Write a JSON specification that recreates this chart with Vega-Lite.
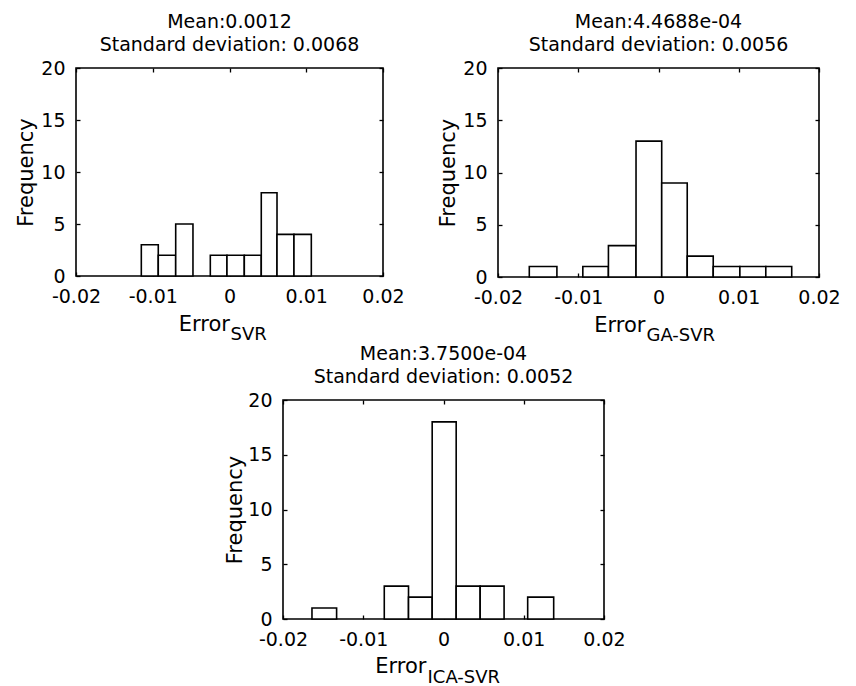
{
  "$schema": "https://vega.github.io/schema/vega-lite/v6.json",
  "padding": {"left": 14, "top": 12, "right": 0, "bottom": 0},
  "background": "white",
  "config": {
    "view": {"stroke": "black", "strokeWidth": 1.6},
    "font": "DejaVu Sans",
    "axis": {
      "grid": false,
      "domain": false,
      "tickColor": "black",
      "tickWidth": 1.3,
      "tickSize": -4,
      "labelFont": "DejaVu Sans",
      "labelFontSize": 19,
      "labelColor": "black",
      "labelPadding": 15,
      "titleFont": "DejaVu Sans",
      "titleFontSize": 21,
      "titleFontWeight": "normal",
      "titleColor": "black"
    },
    "title": {"font": "DejaVu Sans", "fontSize": 19, "fontWeight": "normal", "color": "black", "lineHeight": 23, "frame": "group", "anchor": "middle", "offset": 4}
  },
  "vconcat": [
    {
      "hconcat": [
        {
          "width": 307, "height": 208,
          "title": {"text": ["Mean:0.0012", "Standard deviation: 0.0068"]},
          "data": {"values": [
            {"x0": -0.01149, "x1": -0.00928, "count": 3},
            {"x0": -0.00928, "x1": -0.00701, "count": 2},
            {"x0": -0.00701, "x1": -0.00476, "count": 5},
            {"x0": -0.0025, "x1": -0.00033, "count": 2},
            {"x0": -0.00033, "x1": 0.00193, "count": 2},
            {"x0": 0.00193, "x1": 0.00414, "count": 2},
            {"x0": 0.00414, "x1": 0.00619, "count": 8},
            {"x0": 0.00619, "x1": 0.0084, "count": 4},
            {"x0": 0.0084, "x1": 0.01066, "count": 4}
          ]},
          "layer": [
            {"mark": {"type": "rect", "fill": "white", "stroke": "black", "strokeWidth": 1.6},
             "encoding": {
               "x": {"field": "x0", "type": "quantitative", "scale": {"domain": [-0.02, 0.02], "nice": false, "zero": false},
                     "axis": {"orient": "bottom", "values": [-0.02, -0.01, 0, 0.01, 0.02], "labelExpr": "'' + datum.value", "title": "Error", "titleX": 153.5, "titleY": 54, "titleAlign": "right", "titleBaseline": "alphabetic", "labelFlush": false, "labelOverlap": false}},
               "x2": {"field": "x1"},
               "y": {"field": "count", "type": "quantitative", "scale": {"domain": [0, 20], "nice": false},
                     "axis": {"orient": "left", "values": [0, 5, 10, 15, 20], "title": "Frequency", "titleX": -44, "titleY": 104, "titleAngle": -90, "titleAlign": "center", "titleBaseline": "alphabetic", "labelOverlap": false}},
               "y2": {"datum": 0}
             }},
            {"mark": {"type": "rect", "opacity": 0},
             "encoding": {
               "x": {"field": "x0", "type": "quantitative", "axis": {"orient": "top", "values": [-0.02, -0.01, 0, 0.01, 0.02], "labels": false, "title": null}},
               "x2": {"field": "x1"},
               "y": {"field": "count", "type": "quantitative", "axis": {"orient": "right", "values": [0, 5, 10, 15, 20], "labels": false, "title": null}},
               "y2": {"datum": 0}
             }},
            {"mark": {"type": "rect", "opacity": 0},
             "encoding": {
               "x": {"field": "x0", "type": "quantitative", "axis": {"orient": "bottom", "labels": false, "ticks": false, "title": "SVR", "titleFontSize": 18, "titleX": 154, "titleY": 63, "titleAlign": "left", "titleBaseline": "alphabetic"}},
               "x2": {"field": "x1"},
               "y": {"field": "count", "type": "quantitative", "axis": null},
               "y2": {"datum": 0}
             }}
          ],
          "resolve": {"axis": {"x": "independent", "y": "independent"}}
        },
        {
          "width": 321, "height": 209,
          "title": {"text": ["Mean:4.4688e-04", "Standard deviation: 0.0056"]},
          "data": {"values": [
            {"x0": -0.0161, "x1": -0.01266, "count": 1},
            {"x0": -0.00943, "x1": -0.00624, "count": 1},
            {"x0": -0.00624, "x1": -0.0028, "count": 3},
            {"x0": -0.0028, "x1": 0.0004, "count": 13},
            {"x0": 0.0004, "x1": 0.00358, "count": 9},
            {"x0": 0.00358, "x1": 0.00682, "count": 2},
            {"x0": 0.00682, "x1": 0.01014, "count": 1},
            {"x0": 0.01014, "x1": 0.01337, "count": 1},
            {"x0": 0.01337, "x1": 0.0166, "count": 1}
          ]},
          "layer": [
            {"mark": {"type": "rect", "fill": "white", "stroke": "black", "strokeWidth": 1.6},
             "encoding": {
               "x": {"field": "x0", "type": "quantitative", "scale": {"domain": [-0.02, 0.02], "nice": false, "zero": false},
                     "axis": {"orient": "bottom", "values": [-0.02, -0.01, 0, 0.01, 0.02], "labelExpr": "'' + datum.value", "title": "Error", "titleX": 147, "titleY": 54, "titleAlign": "right", "titleBaseline": "alphabetic", "labelFlush": false, "labelOverlap": false}},
               "x2": {"field": "x1"},
               "y": {"field": "count", "type": "quantitative", "scale": {"domain": [0, 20], "nice": false},
                     "axis": {"orient": "left", "values": [0, 5, 10, 15, 20], "title": "Frequency", "titleX": -44, "titleY": 104.5, "titleAngle": -90, "titleAlign": "center", "titleBaseline": "alphabetic", "labelOverlap": false}},
               "y2": {"datum": 0}
             }},
            {"mark": {"type": "rect", "opacity": 0},
             "encoding": {
               "x": {"field": "x0", "type": "quantitative", "axis": {"orient": "top", "values": [-0.02, -0.01, 0, 0.01, 0.02], "labels": false, "title": null}},
               "x2": {"field": "x1"},
               "y": {"field": "count", "type": "quantitative", "axis": {"orient": "right", "values": [0, 5, 10, 15, 20], "labels": false, "title": null}},
               "y2": {"datum": 0}
             }},
            {"mark": {"type": "rect", "opacity": 0},
             "encoding": {
               "x": {"field": "x0", "type": "quantitative", "axis": {"orient": "bottom", "labels": false, "ticks": false, "title": "GA-SVR", "titleFontSize": 18, "titleX": 148, "titleY": 63, "titleAlign": "left", "titleBaseline": "alphabetic"}},
               "x2": {"field": "x1"},
               "y": {"field": "count", "type": "quantitative", "axis": null},
               "y2": {"datum": 0}
             }}
          ],
          "resolve": {"axis": {"x": "independent", "y": "independent"}}
        }
      ],
      "spacing": 31
    },
    {
      "hconcat": [
        {
          "width": 147, "height": 1,
          "view": {"stroke": null},
          "data": {"values": [{"k": 1}]},
          "mark": {"type": "point", "opacity": 0},
          "encoding": {}
        },
        {
          "width": 321, "height": 219,
          "title": {"text": ["Mean:3.7500e-04", "Standard deviation: 0.0052"]},
          "data": {"values": [
            {"x0": -0.01639, "x1": -0.01332, "count": 1},
            {"x0": -0.00738, "x1": -0.00436, "count": 3},
            {"x0": -0.00436, "x1": -0.00141, "count": 2},
            {"x0": -0.00141, "x1": 0.00158, "count": 18},
            {"x0": 0.00158, "x1": 0.00457, "count": 3},
            {"x0": 0.00457, "x1": 0.00755, "count": 3},
            {"x0": 0.01049, "x1": 0.01373, "count": 2}
          ]},
          "layer": [
            {"mark": {"type": "rect", "fill": "white", "stroke": "black", "strokeWidth": 1.6},
             "encoding": {
               "x": {"field": "x0", "type": "quantitative", "scale": {"domain": [-0.02, 0.02], "nice": false, "zero": false},
                     "axis": {"orient": "bottom", "values": [-0.02, -0.01, 0, 0.01, 0.02], "labelExpr": "'' + datum.value", "title": "Error", "titleX": 143, "titleY": 53, "titleAlign": "right", "titleBaseline": "alphabetic", "labelFlush": false, "labelOverlap": false}},
               "x2": {"field": "x1"},
               "y": {"field": "count", "type": "quantitative", "scale": {"domain": [0, 20], "nice": false},
                     "axis": {"orient": "left", "values": [0, 5, 10, 15, 20], "title": "Frequency", "titleX": -42, "titleY": 109.5, "titleAngle": -90, "titleAlign": "center", "titleBaseline": "alphabetic", "labelOverlap": false}},
               "y2": {"datum": 0}
             }},
            {"mark": {"type": "rect", "opacity": 0},
             "encoding": {
               "x": {"field": "x0", "type": "quantitative", "axis": {"orient": "top", "values": [-0.02, -0.01, 0, 0.01, 0.02], "labels": false, "title": null}},
               "x2": {"field": "x1"},
               "y": {"field": "count", "type": "quantitative", "axis": {"orient": "right", "values": [0, 5, 10, 15, 20], "labels": false, "title": null}},
               "y2": {"datum": 0}
             }},
            {"mark": {"type": "rect", "opacity": 0},
             "encoding": {
               "x": {"field": "x0", "type": "quantitative", "axis": {"orient": "bottom", "labels": false, "ticks": false, "title": "ICA-SVR", "titleFontSize": 18, "titleX": 144, "titleY": 63, "titleAlign": "left", "titleBaseline": "alphabetic"}},
               "x2": {"field": "x1"},
               "y": {"field": "count", "type": "quantitative", "axis": null},
               "y2": {"datum": 0}
             }}
          ],
          "resolve": {"axis": {"x": "independent", "y": "independent"}}
        }
      ],
      "spacing": 0
    }
  ],
  "spacing": -1
}
